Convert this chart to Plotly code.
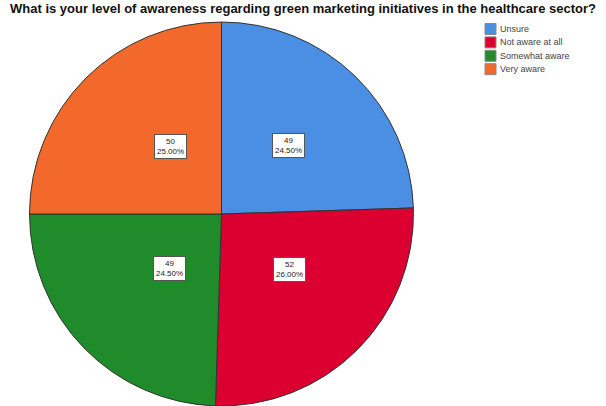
import math
import plotly.graph_objects as go

labels = ["Unsure", "Not aware at all", "Somewhat aware", "Very aware"]
counts = [49, 52, 49, 50]
colors = ["#4A8FE3", "#DC0031", "#1F8B2A", "#F3692B"]

total = sum(counts)

# pie domain (paper coords)
dom_x = [0.0487, 0.6823]
dom_y = [0.0, 0.9458]
W, H = 606, 406

fig = go.Figure(go.Pie(
    labels=labels,
    values=counts,
    sort=False,
    direction="clockwise",
    rotation=0,
    marker=dict(colors=colors, line=dict(color="#333333", width=1)),
    textinfo="none",
    hoverinfo="label+value+percent",
    domain=dict(x=dom_x, y=dom_y),
    showlegend=False,
))

# label boxes at half radius, mid-angle of each slice
cx = (dom_x[0] + dom_x[1]) / 2 * W
cy = (dom_y[0] + dom_y[1]) / 2 * H
r = min((dom_x[1] - dom_x[0]) * W, (dom_y[1] - dom_y[0]) * H) / 2
cum = 0
for lab, v in zip(labels, counts):
    mid = (cum + v / 2) / total * 2 * math.pi
    cum += v
    px = cx + 0.5 * r * math.sin(mid)
    py = cy + 0.5 * r * math.cos(mid)
    fig.add_annotation(
        x=px / W, y=py / H, xref="paper", yref="paper",
        text=f"{v}<br>{v / total * 100:.2f}%",
        showarrow=False,
        font=dict(family="Liberation Sans, Arial", size=8, color="#222222"),
        bgcolor="white", bordercolor="#555555", borderwidth=1, borderpad=2,
        align="center",
    )

# compact legend (SPSS style)
leg_x0, leg_top, sq, step = 485, 29, 11, 13.4
for i, (lab, col) in enumerate(zip(labels, colors)):
    yc = leg_top + i * step
    fig.add_shape(
        type="rect", xref="paper", yref="paper",
        x0=leg_x0 / W, x1=(leg_x0 + sq) / W,
        y0=1 - (yc + sq / 2) / H, y1=1 - (yc - sq / 2) / H,
        fillcolor=col, line=dict(color="#888888", width=1),
    )
    fig.add_annotation(
        x=(leg_x0 + sq + 2) / W, y=1 - yc / H, xref="paper", yref="paper",
        xanchor="left", yanchor="middle", showarrow=False,
        text=lab,
        font=dict(family="Liberation Sans, Arial", size=9, color="#444444"),
    )

fig.update_layout(
    width=W, height=H,
    margin=dict(l=0, r=0, t=0, b=0),
    paper_bgcolor="white",
    title=dict(
        text="<b>What is your level of awareness regarding green marketing initiatives in the healthcare sector?</b>",
        x=0.5, xanchor="center", y=0.99, yanchor="top",
        font=dict(family="Liberation Sans, Arial", size=13, color="#111111"),
    ),
    showlegend=False,
)

fig.write_html("out.html")
